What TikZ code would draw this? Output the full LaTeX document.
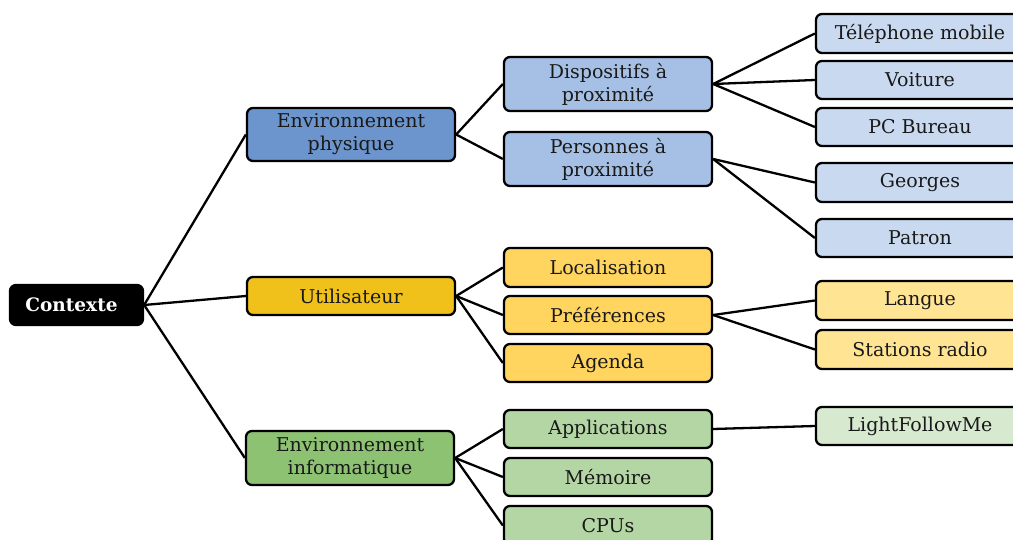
\documentclass[tikz,border=0pt]{standalone}
\usepackage{fontspec}
\setmainfont{DejaVu Serif}
\definecolor{cEP}{HTML}{6C95CD}
\definecolor{cDP}{HTML}{A5C0E4}
\definecolor{cTL}{HTML}{C9D9EF}
\definecolor{cUT}{HTML}{F0C11B}
\definecolor{cLO}{HTML}{FFD55F}
\definecolor{cLA}{HTML}{FFE494}
\definecolor{cEI}{HTML}{8DC273}
\definecolor{cAP}{HTML}{B3D6A4}
\definecolor{cLF}{HTML}{D7E9CF}
\begin{document}
\begin{tikzpicture}[x=1pt,y=-1pt,
  box/.style={draw=black, line width=2.3pt, rounded corners=6pt, inner sep=0pt,
    align=center, minimum width=208pt, minimum height=38pt,
    font=\fontsize{19}{23}\selectfont, text=black!90},
  tall/.style={minimum height=54pt},
  conn/.style={draw=black, line width=2.3pt}]
\clip (0,0) rectangle (1013,540);
\fill[white] (0,0) rectangle (1013,540);
% level 0
\node[box, fill=black, text=white, minimum width=133pt, minimum height=40pt,
  font=\fontsize{18.5}{22}\selectfont\bfseries] (ctx) at (76.5,305) {Contexte\hspace*{10pt}};
% level 1
\node[box, tall, minimum height=53pt, fill=cEP] (ep) at (351,134.5) {Environnement\\physique};
\node[box, fill=cUT] (ut) at (351,296) {Utilisateur};
\node[box, tall, fill=cEI] (ei) at (350,458) {Environnement\\informatique};
% level 2
\node[box, tall, fill=cDP] (dp) at (608,84) {Dispositifs à\\proximité};
\node[box, tall, fill=cDP] (pp) at (608,159) {Personnes à\\proximité};
\node[box, fill=cLO, minimum height=39pt] (loc) at (608,267.5) {Localisation};
\node[box, fill=cLO] (pref) at (608,315) {Préférences};
\node[box, fill=cLO] (ag) at (608,363) {Agenda};
\node[box, fill=cAP] (app) at (608,429) {Applications};
\node[box, fill=cAP] (mem) at (608,477) {Mémoire};
\node[box, fill=cAP, minimum height=39pt] (cpu) at (608,525.5) {CPUs};
% level 3
\node[box, fill=cTL, minimum height=39pt] (tel) at (920,33.5) {Téléphone mobile};
\node[box, fill=cTL] (voi) at (920,80) {Voiture};
\node[box, fill=cTL] (pc) at (920,127) {PC Bureau};
\node[box, fill=cTL, minimum height=39pt] (geo) at (920,182.5) {Georges};
\node[box, fill=cTL] (pat) at (920,238) {Patron};
\node[box, fill=cLA, minimum height=39pt] (lang) at (920,300.5) {Langue};
\node[box, fill=cLA, minimum height=39pt] (stat) at (920,349.5) {Stations radio};
\node[box, fill=cLF] (lfm) at (920,426) {LightFollowMe};
% connectors
\draw[conn] (ctx.east) -- (ep.west);
\draw[conn] (ctx.east) -- (ut.west);
\draw[conn] (ctx.east) -- (ei.west);
\draw[conn] (ep.east) -- (dp.west);
\draw[conn] (ep.east) -- (pp.west);
\draw[conn] (ut.east) -- (loc.west);
\draw[conn] (ut.east) -- (pref.west);
\draw[conn] (ut.east) -- (ag.west);
\draw[conn] (ei.east) -- (app.west);
\draw[conn] (ei.east) -- (mem.west);
\draw[conn] (ei.east) -- (cpu.west);
\draw[conn] (dp.east) -- (tel.west);
\draw[conn] (dp.east) -- (voi.west);
\draw[conn] (dp.east) -- (pc.west);
\draw[conn] (pp.east) -- (geo.west);
\draw[conn] (pp.east) -- (pat.west);
\draw[conn] (pref.east) -- (lang.west);
\draw[conn] (pref.east) -- (stat.west);
\draw[conn] (app.east) -- (lfm.west);
\end{tikzpicture}
\end{document}
